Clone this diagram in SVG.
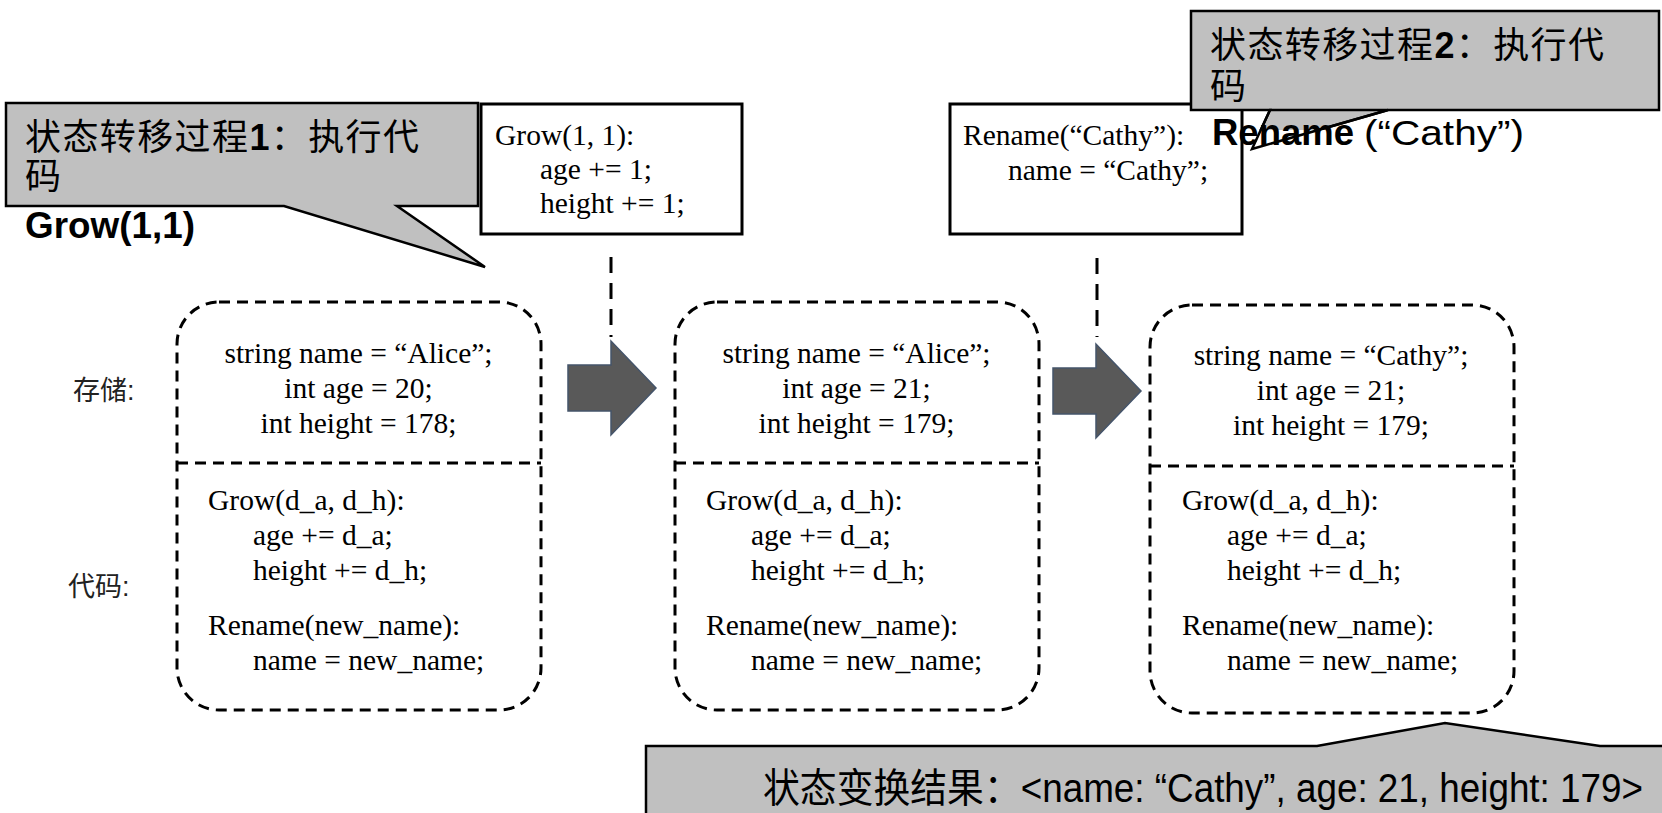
<svg xmlns="http://www.w3.org/2000/svg" xmlns:xlink="http://www.w3.org/1999/xlink" width="1662" height="813" viewBox="0 0 1662 813">
<style>
.code{font-family:"Liberation Serif","Times New Roman",serif;font-size:29.5px;fill:#000}
.mid{text-anchor:middle}
.frame{fill:none;stroke:#000;stroke-width:3;stroke-dasharray:11 7}
.callout{fill:#c0c0c0;stroke:#000;stroke-width:2.5;stroke-linejoin:miter}
.outline{fill:none;stroke:#000;stroke-width:2.5}
.sans{font-family:"Liberation Sans","Noto Sans CJK SC",sans-serif;fill:#000}
.cjk{font-family:"Noto Sans CJK SC","Liberation Sans",sans-serif;fill:#000}
.box{fill:#fff;stroke:#000;stroke-width:3}
.arrow{fill:#595959;stroke:#44546a;stroke-width:1.5}
.vline{stroke:#000;stroke-width:3;stroke-dasharray:16 10;fill:none}
.label{font-family:"Liberation Sans","Noto Sans CJK SC",sans-serif;font-size:27px;fill:#222}
</style>
<defs>
  <g id="frameShape">
    <rect class="frame" x="0" y="0" width="364" height="408" rx="42" ry="42"/>
    <line class="frame" x1="0" y1="161" x2="364" y2="161"/>
  </g>
  <g id="methods">
    <text class="code" x="0" y="0">Grow(d_a, d_h):</text>
    <text class="code" x="45" y="35">age += d_a;</text>
    <text class="code" x="45" y="70">height += d_h;</text>
    <text class="code" x="0" y="125">Rename(new_name):</text>
    <text class="code" x="45" y="160">name = new_name;</text>
  </g>
  <polygon id="blockArrow" class="arrow" points="0,-23 43,-23 43,-47 88,0 43,47 43,23 0,23"/>
</defs>

<g id="connectors">
  <line class="vline" x1="611" y1="257" x2="611" y2="337"/>
  <line class="vline" x1="1097" y1="258" x2="1097" y2="337"/>
  <use xlink:href="#blockArrow" href="#blockArrow" x="568" y="388"/>
  <use xlink:href="#blockArrow" href="#blockArrow" x="1053" y="391"/>
</g>

<g id="labels">
  <text class="label" x="73" y="400">存储:</text>
  <text class="label" x="68" y="596">代码:</text>
</g>

<g id="state1">
  <use xlink:href="#frameShape" href="#frameShape" x="177" y="302"/>
  <text class="code mid" x="358.5" y="363">string name = “Alice”;</text>
  <text class="code mid" x="358.5" y="398">int age = 20;</text>
  <text class="code mid" x="358.5" y="433">int height = 178;</text>
  <use xlink:href="#methods" href="#methods" x="208" y="510"/>
</g>

<g id="state2">
  <use xlink:href="#frameShape" href="#frameShape" x="675" y="302"/>
  <text class="code mid" x="856.5" y="363">string name = “Alice”;</text>
  <text class="code mid" x="856.5" y="398">int age = 21;</text>
  <text class="code mid" x="856.5" y="433">int height = 179;</text>
  <use xlink:href="#methods" href="#methods" x="706" y="510"/>
</g>

<g id="state3">
  <use xlink:href="#frameShape" href="#frameShape" x="1150" y="305"/>
  <text class="code mid" x="1331" y="365">string name = “Cathy”;</text>
  <text class="code mid" x="1331" y="400">int age = 21;</text>
  <text class="code mid" x="1331" y="435">int height = 179;</text>
  <use xlink:href="#methods" href="#methods" x="1182" y="510"/>
</g>

<g id="callout1">
  <polygon class="callout" points="6,103 478,103 478,206 397,206 485,267 284,206 6,206"/>
  <text class="cjk" x="25" y="150" font-size="36" textLength="394" lengthAdjust="spacing">状态转移过程<tspan font-family="Liberation Sans" font-weight="bold">1</tspan>：执行代</text>
  <text class="cjk" x="25" y="189" font-size="36">码</text>
  <text class="sans" x="25" y="238" font-size="36" font-weight="bold" textLength="170" lengthAdjust="spacingAndGlyphs">Grow(1,1)</text>
</g>

<g id="code1">
  <rect class="box" x="481" y="104" width="261" height="130"/>
  <text class="code" x="495" y="145">Grow(1, 1):</text>
  <text class="code" x="540" y="179">age += 1;</text>
  <text class="code" x="540" y="213">height += 1;</text>
</g>

<g id="code2">
  <rect class="box" x="950" y="104" width="292" height="130"/>
  <text class="code" x="963" y="145">Rename(“Cathy”):</text>
  <text class="code" x="1008" y="180">name = “Cathy”;</text>
</g>

<g id="callout2">
  <polygon class="callout" points="1191,11 1659,11 1659,110 1388,110 1252,149 1270,110 1191,110"/>
  <rect x="1245" y="130" width="160" height="24" fill="#fff"/>
  <polygon class="outline" points="1388,110 1252,149 1270,110"/>
  <text class="cjk" x="1210" y="58" font-size="36" textLength="394" lengthAdjust="spacing">状态转移过程<tspan font-family="Liberation Sans" font-weight="bold">2</tspan>：执行代</text>
  <text class="cjk" x="1210" y="99" font-size="36">码</text>
  <text class="sans" x="1212" y="145" font-size="36" font-weight="bold" textLength="142" lengthAdjust="spacingAndGlyphs">Rename</text>
  <text class="sans" x="1364" y="145" font-size="35" textLength="160" lengthAdjust="spacingAndGlyphs">(“Cathy”)</text>
</g>

<g id="result">
  <polygon class="callout" points="646,746 1317,746 1445,723 1600,746 1672,746 1672,823 646,823"/>
  <text class="sans" x="763" y="802" font-size="40" textLength="880" lengthAdjust="spacingAndGlyphs">状态变换结果：<tspan>&lt;name: “Cathy”, age: 21, height: 179&gt;</tspan></text>
</g>
</svg>
